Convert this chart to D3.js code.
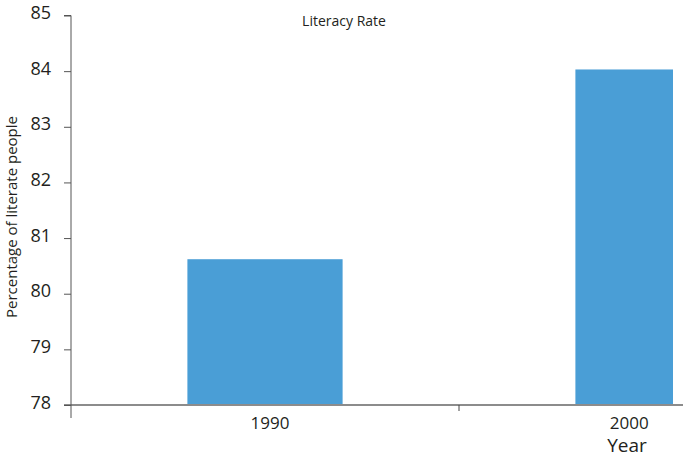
<!DOCTYPE html>
<html><head><meta charset="utf-8">
<script src="https://cdn.jsdelivr.net/npm/d3@7"></script>
<style>body{margin:0;background:#fff}svg{display:block}text{font-family:"Open Sans",sans-serif;fill:#231f20}</style>
</head><body>
<svg id="c" width="686" height="459"></svg>
<script>
const years = ["1990", "2000"];
const rates = [80.62, 84.03];
const yTicks = [78, 79, 80, 81, 82, 83, 84, 85];
const title = "Literacy Rate";
const yTitle = "Percentage of literate people";
const xTitle = "Year";

(function () {
const svg = d3.select("#c");
const left = 71, plotTop = 15.5, bottom = 405, clipRight = 673, axisRight = 683;
const x = d3.scaleBand().domain(years).range([left, 847]).paddingInner(0.6).paddingOuter(0.3);
const y = d3.scaleLinear().domain([78, 85]).range([bottom, plotTop]);

svg.append("defs").append("clipPath").attr("id", "pc")
  .append("rect").attr("x", left).attr("y", 0).attr("width", clipRight - left).attr("height", 459);

// bars
svg.append("g").attr("clip-path", "url(#pc)").selectAll("rect").data(years).join("rect")
  .attr("x", d => x(d)).attr("width", x.bandwidth())
  .attr("y", (d, i) => y(rates[i])).attr("height", (d, i) => bottom - y(rates[i]))
  .attr("fill", "#4a9ed6");

// x axis line
svg.append("line").attr("x1", 64).attr("x2", axisRight).attr("y1", bottom).attr("y2", bottom)
  .attr("stroke", "#8c8c8c").attr("stroke-width", 2);
// category separator tick
svg.append("line").attr("x1", x.step() + left).attr("x2", x.step() + left).attr("y1", bottom).attr("y2", bottom + 6)
  .attr("stroke", "#444").attr("stroke-width", 1);
// category labels
svg.append("g").selectAll("text").data(years).join("text")
  .attr("x", d => { const a = x(d), b = Math.min(x(d) + x.bandwidth(), clipRight); return (a + b) / 2 + 5; })
  .attr("y", 429).attr("text-anchor", "middle").attr("font-size", 17).text(d => d);

// y axis
const yAxis = svg.append("g").attr("transform", `translate(${left},0)`)
  .call(d3.axisLeft(y).tickValues(yTicks).tickSize(7).tickPadding(13).tickFormat(d3.format("d")));
yAxis.attr("font-family", null);
yAxis.select(".domain").attr("d", `M-7,${plotTop}H0V${bottom + 13}`).attr("stroke", "#555");
yAxis.selectAll(".tick line").attr("stroke", "#555");
yAxis.selectAll(".tick text").attr("font-size", 18).attr("fill", "#231f20").attr("dy", "0.17em");

// titles
svg.append("text").attr("x", 344).attr("y", 26).attr("text-anchor", "middle").attr("font-size", 14).text(title);
svg.append("text").attr("transform", "translate(17,217) rotate(-90)").attr("text-anchor", "middle")
  .attr("font-size", 15).text(yTitle);
svg.append("text").attr("x", 627).attr("y", 452).attr("text-anchor", "middle").attr("font-size", 19).text(xTitle);
})();
</script>
</body></html>
